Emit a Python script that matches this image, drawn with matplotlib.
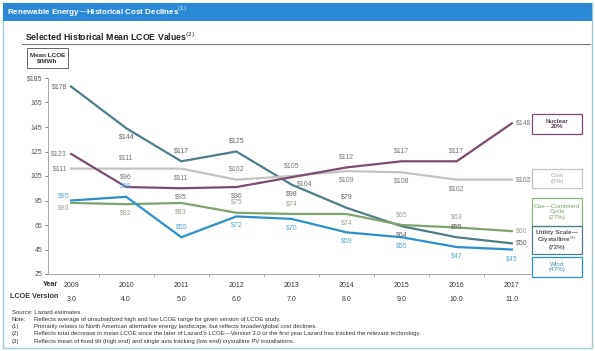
import matplotlib.pyplot as plt
from matplotlib.patches import Rectangle

plt.rcParams['font.family'] = ['Liberation Sans', 'DejaVu Sans']

years = [2009, 2010, 2011, 2012, 2013, 2014, 2015, 2016, 2017]
versions = ['3.0', '4.0', '5.0', '6.0', '7.0', '8.0', '9.0', '10.0', '11.0']

solar = [178, 144, 117, 125, 98, 79, 64, 55, 50]
nuclear = [123, 96, 95, 96, 104, 112, 117, 117, 148]
coal = [111, 111, 111, 102, 105, 109, 108, 102, 102]
gas = [83, 82, 83, 75, 74, 74, 65, 63, 60]
wind = [85, 88, 55, 72, 70, 59, 55, 47, 45]

yticks = [25, 45, 65, 85, 105, 125, 145, 165, 185]

W, H = 595, 351
fig = plt.figure(figsize=(W / 100, H / 100), dpi=100)

def fx(px):
    return px / W

def fy(py):
    return 1 - py / H

# outer frame and title bar
fig.patches.append(Rectangle((fx(3), fy(348)), fx(589), 345 / H, transform=fig.transFigure,
                             fill=False, edgecolor='#9cc7d3', lw=1.0))
fig.patches.append(Rectangle((fx(3), fy(21)), fx(589), 18 / H, transform=fig.transFigure,
                             facecolor='#2b8ad6', edgecolor='none'))
fig.text(fx(7), fy(12), 'Renewable Energy\u2014Historical Cost Declines$^{(1)}$', color='white',
         fontsize=5.8, fontweight='bold', va='center')

fig.text(fx(25), fy(37), 'Selected Historical Mean LCOE Values$^{(2)}$', color='#222222',
         fontsize=6.3, fontweight='bold', va='center')
fig.add_artist(plt.Line2D([fx(22), fx(590)], [fy(44), fy(44)], color='#777777', lw=0.8))

fig.patches.append(Rectangle((fx(27), fy(68)), fx(41), 20 / H, transform=fig.transFigure,
                             fill=False, edgecolor='#666666', lw=0.7))
fig.text(fx(47.5), fy(58), 'Mean LCOE\n$/MWh', ha='center', va='center', fontsize=4.6,
         fontweight='bold', color='#333333', linespacing=1.1)

# main axes
left, right, top, bottom = 48, 530, 78, 274
ax = fig.add_axes([fx(left), fy(bottom), (right - left) / W, (bottom - top) / H])
ax.set_xlim(2008.58, 2017.33)
ax.set_ylim(25, 185)
ax.set_facecolor('none')
for s in ['top', 'right']:
    ax.spines[s].set_visible(False)
for s in ['left', 'bottom']:
    ax.spines[s].set_color('#999999')
    ax.spines[s].set_linewidth(0.6)
ax.set_yticks(yticks)
ax.set_yticklabels([str(t) for t in yticks[:-1]] + ['$' + str(yticks[-1])])
ax.tick_params(axis='y', labelsize=5, colors='#555555', length=2, width=0.5, pad=2)
ax.set_xticks([y + 0.5 for y in years[:-1]])
ax.set_xticklabels([])
ax.tick_params(axis='x', length=2, width=0.5, colors='#999999')

series = [
    (solar, '#4f7d88', '#666666',
     ['l', 'b', 'a', 'a', 'b', 'a', 'b', 'a', 'r']),
    (coal, '#c3c3c3', '#777777',
     ['l', 'a', 'b', 'a', 'a', 'b', 'b', 'b', 'r']),
    (nuclear, '#7a4d70', '#777777',
     ['l', 'a', 'b', 'b', 'br', 'a', 'a', 'a', 'r']),
    (gas, '#7fa36e', '#9aa590',
     ['lb', 'b', 'b', 'a', 'a', 'b', 'a', 'a', 'r']),
    (wind, '#2f8fca', '#5aa7cf',
     ['la', 'a', 'a', 'b', 'b', 'b', 'b', 'b', 'b']),
]

offsets = {'a': (0, 5, 'center', 'bottom'), 'b': (0, -4, 'center', 'top'),
           'l': (-3, 0, 'right', 'center'), 'r': (3, 0, 'left', 'center'),
           'br': (4, -2, 'left', 'top'), 'la': (-1, 1, 'right', 'bottom'),
           'lb': (-1, -1, 'right', 'top')}

for vals, lc, tc, pos in series:
    ax.plot(years, vals, color=lc, lw=1.6, solid_joinstyle='miter', clip_on=False)
    for x, v, p in zip(years, vals, pos):
        dx, dy, ha, va = offsets[p]
        ax.annotate('$%d' % v, (x, v), xytext=(dx, dy), textcoords='offset points',
                    ha=ha, va=va, fontsize=5, color=tc)

# year / version rows
for yr, ver in zip(years, versions):
    ax.annotate(str(yr), (yr, 0), xycoords=('data', 'axes fraction'), xytext=(0, -6),
                textcoords='offset points', ha='center', va='top', fontsize=5, color='#333333')
    ax.annotate(ver, (yr, 0), xycoords=('data', 'axes fraction'), xytext=(0, -16),
                textcoords='offset points', ha='center', va='top', fontsize=5, color='#333333')
fig.text(fx(58), fy(284), 'Year', ha='right', va='center', fontsize=5.2, fontweight='bold', color='#333333')
fig.text(fx(58), fy(297), 'LCOE Version', ha='right', va='center', fontsize=5.2, fontweight='bold',
         color='#333333')

# legend boxes
boxes = [
    ('Nuclear\n20%', 114, 134, '#7a4d70', '#5a4055', 'bold'),
    ('Coal\n(8%)', 169, 188, '#c3c3c3', '#aaaaaa', 'normal'),
    ('Gas\u2014Combined\nCycle\n(27%)', 198, 226, '#8fb07f', '#7fa36e', 'normal'),
    ('Utility Scale\u2014\nCrystalline$^{(3)}$\n(72%)', 226, 254, '#4f7d88', '#555555', 'bold'),
    ('Wind\n(47%)', 257, 277, '#2f8fca', '#3d8fc0', 'normal'),
]
for txt, y0, y1, ec, tc, fw in boxes:
    fig.patches.append(Rectangle((fx(532), fy(y1)), fx(50), (y1 - y0) / H, transform=fig.transFigure,
                                 fill=False, edgecolor=ec, lw=0.9))
    fig.text(fx(557), fy((y0 + y1) / 2), txt, ha='center', va='center', fontsize=4.5,
             color=tc, fontweight=fw, linespacing=1.05)

# footnotes
notes = [
    ('Source: Lazard estimates.', ''),
    ('Note:', 'Reflects average of unsubsidized high and low LCOE range for given version of LCOE study.'),
    ('(1)', 'Primarily relates to North American alternative energy landscape, but reflects broader/global cost declines.'),
    ('(2)', "Reflects total decrease in mean LCOE since the later of Lazard's LCOE\u2014Version 3.0 or the first year Lazard has tracked the relevant technology."),
    ('(3)', 'Reflects mean of fixed tilt (high end) and single axis tracking (low end) crystalline PV installations.'),
]
for i, (a, b) in enumerate(notes):
    yy = fy(312 + i * 7.3)
    fig.text(fx(12), yy, a, fontsize=4.3, color='#333333', va='center')
    if b:
        fig.text(fx(34), yy, b, fontsize=4.3, color='#333333', va='center')

fig.savefig('out.png', dpi=100)
